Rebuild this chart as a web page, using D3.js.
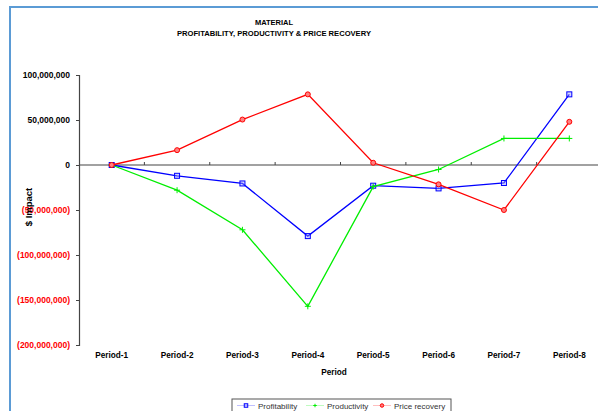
<!DOCTYPE html>
<html>
<head>
<meta charset="utf-8">
<script src="https://cdn.jsdelivr.net/npm/d3@7"></script>
<style>
  html, body { margin: 0; padding: 0; background: #fff; }
  svg { display: block; font-family: "Liberation Sans", Arial, sans-serif; }
</style>
</head>
<body>
<svg id="chart" width="598" height="411"></svg>
<script>
// Material: profitability split into productivity and price recovery, by period ($)
const periods = ["Period-1", "Period-2", "Period-3", "Period-4", "Period-5", "Period-6", "Period-7", "Period-8"];
const profitability = [0, -12000000, -20500000, -79000000, -23000000, -26000000, -20000000, 78500000];
const productivity = [0, -28000000, -72000000, -157000000, -24000000, -5000000, 29500000, 29500000];
const priceRecovery = [0, 16500000, 50500000, 78500000, 2500000, -21500000, -50000000, 48000000];
const yTicks = [100000000, 50000000, 0, -50000000, -100000000, -150000000, -200000000];

const series = [
  { name: "Profitability", values: profitability, color: "#0000ff", marker: "square" },
  { name: "Productivity", values: productivity, color: "#00ee00", marker: "plus" },
  { name: "Price recovery", values: priceRecovery, color: "#ff0000", marker: "circle" }
];

const svg = d3.select("#chart");

// frame edges
svg.append("line").attr("x1", 10).attr("x2", 598).attr("y1", 7).attr("y2", 7)
  .attr("stroke", "#5b9bd5").attr("stroke-width", 2);
svg.append("line").attr("x1", 10).attr("x2", 10).attr("y1", 6).attr("y2", 411)
  .attr("stroke", "#5b9bd5").attr("stroke-width", 2);

// titles
svg.append("text").attr("x", 274).attr("y", 25).attr("text-anchor", "middle")
  .attr("font-size", 7.5).attr("font-weight", "bold").text("MATERIAL");
svg.append("text").attr("x", 274).attr("y", 36).attr("text-anchor", "middle")
  .attr("font-size", 7.6).attr("font-weight", "bold")
  .text("PROFITABILITY, PRODUCTIVITY & PRICE RECOVERY");

const x = d3.scalePoint().domain(periods).range([79, 602]).padding(0.5);
const y = d3.scaleLinear().domain([-200000000, 100000000]).range([345, 75]);

const fmt = v => {
  const s = d3.format(",")(Math.abs(v));
  return v < 0 ? "(" + s + ")" : s;
};

// y axis
const yAxis = svg.append("g").attr("transform", "translate(79,0)")
  .call(d3.axisLeft(y).tickValues(yTicks).tickFormat(fmt).tickSize(3).tickPadding(6));
yAxis.select(".domain").attr("stroke", "#444").attr("stroke-width", 1.2);
yAxis.selectAll(".tick line").attr("stroke", "#444");
yAxis.selectAll(".tick text")
  .attr("font-size", 8.5).attr("font-weight", "bold")
  .attr("font-family", "Liberation Sans, Arial, sans-serif")
  .attr("fill", d => d < 0 ? "#ff0000" : "#000");

// x axis along the zero line, labels at the bottom
const step = x.step();
svg.append("line").attr("x1", 79).attr("x2", 602).attr("y1", y(0)).attr("y2", y(0))
  .attr("stroke", "#444").attr("stroke-width", 1.2);
periods.slice(1).forEach(p => {
  const tx = x(p) - step / 2;
  svg.append("line").attr("x1", tx).attr("x2", tx).attr("y1", y(0)).attr("y2", y(0) - 3)
    .attr("stroke", "#444");
});
svg.append("g").selectAll("text").data(periods).join("text")
  .attr("x", d => x(d)).attr("y", 358).attr("text-anchor", "middle")
  .attr("font-size", 8.2).attr("font-weight", "bold").text(d => d);

svg.append("text").attr("x", 334).attr("y", 375).attr("text-anchor", "middle")
  .attr("font-size", 8.2).attr("font-weight", "bold").text("Period");
svg.append("text").attr("transform", "translate(32,207) rotate(-90)").attr("text-anchor", "middle")
  .attr("font-size", 9.5).attr("font-weight", "bold").text("$ Impact");

function drawMarker(g, type, cx, cy, color, size) {
  if (type === "square") {
    g.append("rect").attr("x", cx - size / 2).attr("y", cy - size / 2)
      .attr("width", size).attr("height", size)
      .attr("fill", "#9999ff").attr("fill-opacity", 0.4).attr("stroke", color).attr("stroke-width", 1);
  } else if (type === "plus") {
    g.append("path").attr("d", `M${cx - size / 2},${cy}H${cx + size / 2}M${cx},${cy - size / 2}V${cy + size / 2}`)
      .attr("stroke", color).attr("stroke-width", 1);
  } else {
    g.append("circle").attr("cx", cx).attr("cy", cy).attr("r", size / 2)
      .attr("fill", "#ff8080").attr("stroke", color).attr("stroke-width", 1);
  }
}

const line = d3.line().x((d, i) => x(periods[i])).y(d => y(d));
series.forEach(s => {
  svg.append("path").datum(s.values).attr("d", line)
    .attr("fill", "none").attr("stroke", s.color).attr("stroke-width", 1.3);
  const g = svg.append("g");
  s.values.forEach((v, i) => drawMarker(g, s.marker, x(periods[i]), y(v), s.color, s.marker === "plus" ? 6 : 5));
});

// legend
const lg = svg.append("g");
lg.append("rect").attr("x", 232).attr("y", 399).attr("width", 219).attr("height", 20)
  .attr("fill", "#fff").attr("stroke", "#555").attr("stroke-width", 1);
const legendX = [237, 306, 373];
series.forEach((s, i) => {
  const lx = legendX[i];
  lg.append("line").attr("x1", lx).attr("x2", lx + 18).attr("y1", 405.5).attr("y2", 405.5)
    .attr("stroke", s.color).attr("stroke-opacity", 0.25).attr("stroke-width", 1);
  drawMarker(lg, s.marker, lx + 9, 405.5, s.color, 3.5);
  lg.append("text").attr("x", lx + 21).attr("y", 408.5).attr("font-size", 8)
    .attr("fill", "#333").text(s.name);
});
</script>
</body>
</html>
